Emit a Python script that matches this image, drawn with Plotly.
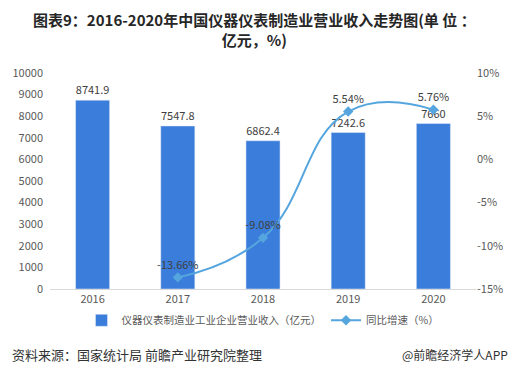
import plotly.graph_objects as go

years = ["2016", "2017", "2018", "2019", "2020"]
revenue = [8741.9, 7547.8, 6862.4, 7242.6, 7660]
revenue_labels = ["8741.9", "7547.8", "6862.4", "7242.6", "7660"]
growth_years = ["2017", "2018", "2019", "2020"]
growth = [-13.66, -9.08, 5.54, 5.76]
growth_labels = ["-13.66%", "-9.08%", "5.54%", "5.76%"]

left_ticks = list(range(0, 10001, 1000))
left_tick_text = [str(v) for v in left_ticks]
right_ticks = [-15, -10, -5, 0, 5, 10]
right_tick_text = ["-15%", "-10%", "-5%", "0%", "5%", "10%"]

BAR = "#3b7ddb"
LINE = "#55a5de"
FONT = "Noto Sans CJK SC"

fig = go.Figure()
fig.add_trace(go.Bar(
    x=years, y=revenue, name="仪器仪表制造业工业企业营业收入（亿元）",
    marker=dict(color=BAR), text=revenue_labels, textposition="outside",
    textfont=dict(size=11, color="#404040"), cliponaxis=False,
))
fig.add_trace(go.Scatter(
    x=growth_years, y=growth, name="同比增速（%）", yaxis="y2",
    mode="lines+markers+text", line=dict(color=LINE, width=2, shape="spline", smoothing=1.3),
    marker=dict(symbol="diamond", size=8, color=LINE),
    text=growth_labels, textposition="top center",
    textfont=dict(size=11, color="#404040"), cliponaxis=False,
))

fig.update_layout(
    width=516, height=378,
    margin=dict(l=47, r=40, t=73, b=89),
    paper_bgcolor="white", plot_bgcolor="white",
    font=dict(family=FONT, color="#595959", size=11),
    bargap=0.6,
    xaxis=dict(showline=True, linecolor="#d9d9d9", linewidth=1, ticks="",
               tickfont=dict(size=11, color="#595959")),
    yaxis=dict(range=[0, 10000], tickvals=left_ticks, ticktext=left_tick_text,
               showgrid=False, zeroline=False, ticklabelstandoff=6,
               tickfont=dict(size=11, color="#595959")),
    yaxis2=dict(range=[-15, 10], tickvals=right_ticks, ticktext=right_tick_text,
                overlaying="y", side="right", showgrid=False, zeroline=False,
                tickfont=dict(size=11, color="#595959")),
    legend=dict(orientation="h", x=0.5, xanchor="center", y=-0.145, yanchor="middle",
                font=dict(size=10.5, color="#595959")),
    showlegend=True,
)

fig.add_annotation(text="<b>图表9：2016-2020年中国仪器仪表制造业营业收入走势图(单 位 ：<br>亿元，%)</b>",
                   xref="paper", yref="paper", x=0.48, xanchor="center",
                   y=1.305, yanchor="top", showarrow=False, align="center",
                   font=dict(size=15, color="#262626", family=FONT))
fig.add_annotation(text="资料来源：国家统计局 前瞻产业研究院整理", xref="paper", yref="paper",
                   x=-0.095, xanchor="left", y=-0.305, yanchor="middle", showarrow=False,
                   font=dict(size=13, color="#333333", family=FONT))
fig.add_annotation(text="@前瞻经济学人APP", xref="paper", yref="paper",
                   x=1.08, xanchor="right", y=-0.305, yanchor="middle", showarrow=False,
                   font=dict(size=12, color="#333333", family=FONT))

fig.write_html("out.html", config={"displayModeBar": False},
               post_script="document.body.style.margin='0';")
